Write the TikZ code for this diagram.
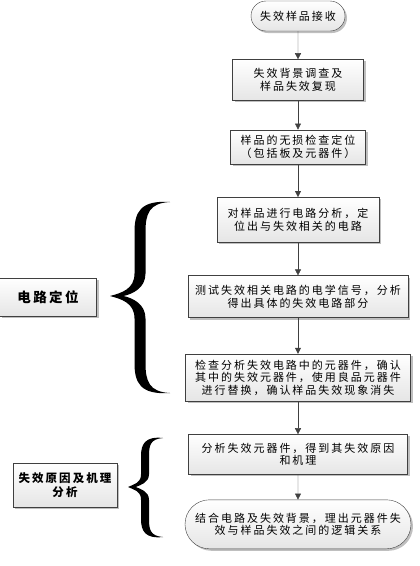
\documentclass[tikz,border=0pt]{standalone}
\usepackage{fontspec}
\setmainfont{Noto Sans CJK SC}[LetterSpace=18]
\usetikzlibrary{arrows.meta, positioning, shapes.misc, shadows}

\tikzset{
  stepbox/.style={draw=black!75, rectangle, top color=white, bottom color=black!10,
    drop shadow={shadow xshift=2pt, shadow yshift=-2pt, fill=black!50},
    inner sep=1pt, align=center, font=\fontsize{11}{12.5}\selectfont},
  termbox/.style={stepbox, rounded rectangle},
  tagbox/.style={stepbox, font=\bfseries\fontsize{11.5}{13.5}\selectfont},
  flow/.style={draw=black!75, -{Triangle[length=6pt, width=6pt]}}
}

% filled curly brace: end x, stem x, tip x, top y, tip y, bottom y, stem width
\newcommand\curlybrace[7]{%
  \pgfmathsetmacro\ba{#1-#2}\pgfmathsetmacro\bb{0.75*(#2-#3)}%
  \pgfmathsetmacro\lo{#2-#7/2}\pgfmathsetmacro\ri{#2+#7/2}%
  \fill (#1,#4) .. controls (#2,#4-2) and (\lo,#4+0.35*\ba) .. (\lo,#4+\ba)
   -- (\lo,#5-\bb) .. controls (\lo,#5-0.3*\bb) and (#3+0.5*\bb,#5-3) .. (#3,#5)
   .. controls (#3+0.5*\bb,#5+3) and (\lo,#5+0.3*\bb) .. (\lo,#5+\bb)
   -- (\lo,#6-\ba) .. controls (\lo,#6-0.35*\ba) and (#2,#6+2) .. (#1,#6)
   .. controls (#2+0.3*\ba,#6-1) and (\ri,#6-0.4*\ba) .. (\ri,#6-\ba)
   -- (\ri,#5+\bb) .. controls (\ri,#5+0.35*\bb) and (#3+\bb,#5+2) .. (#3+0.6*\bb,#5)
   .. controls (#3+\bb,#5-2) and (\ri,#5-0.35*\bb) .. (\ri,#5-\bb)
   -- (\ri,#4+\ba) .. controls (\ri,#4+0.4*\ba) and (#2+0.3*\ba,#4+1) .. (#1,#4) -- cycle;}

\begin{document}
\begin{tikzpicture}[x=1pt, y=-1pt]
  \useasboundingbox (0,0) rectangle (420,566);

  % main flow
  \node[termbox, minimum width=96pt, minimum height=30pt] (recv) at (298,16) {失效样品接收};
  \node[stepbox, below=28pt of recv, minimum width=131pt, minimum height=41pt] (survey)
    {失效背景调查及\\样品失效复现};
  \node[stepbox, below=29pt of survey, minimum width=135pt, minimum height=34pt] (ndt)
    {样品的无损检查定位\\（包括板及元器件）};
  \node[stepbox, below=33pt of ndt, minimum width=162pt, minimum height=45pt] (circ)
    {对样品进行电路分析，定\\位出与失效相关的电路};
  \node[stepbox, below=33pt of circ, minimum width=220pt, minimum height=42pt] (signal)
    {测试失效相关电路的电学信号，分析\\得出具体的失效电路部分};
  \node[stepbox, below=36pt of signal, minimum width=225pt, minimum height=47pt] (comp)
    {检查分析失效电路中的元器件，确认\\其中的失效元器件，使用良品元器件\\进行替换，确认样品失效现象消失};
  \node[stepbox, below=33pt of comp, minimum width=219pt, minimum height=40pt] (mech)
    {分析失效元器件，得到其失效原因\\和机理};
  \node[termbox, below=25pt of mech, minimum width=228pt, minimum height=49pt] (logic)
    {结合电路及失效背景，理出元器件失\\效与样品失效之间的逻辑关系};

  \draw[flow] (recv) -- (survey);
  \draw[flow] (survey) -- (ndt);
  \draw[flow] (ndt) -- (circ);
  \draw[flow] (circ) -- (signal);
  \draw[flow] (signal) -- (comp);
  \draw[flow] (comp) -- (mech);
  \draw[flow] (mech) -- (logic);

  % stage labels
  \node[tagbox, font=\bfseries\fontsize{13.5}{15}\selectfont, minimum width=97pt, minimum height=38pt] (loc) at (48,297) {电路定位};
  \node[tagbox, minimum width=104pt, minimum height=44pt] (cause) at (65,485) {失效原因及机理\\分析};

  \curlybrace{170}{140}{110}{202}{296}{393}{11}
  \curlybrace{163}{145}{128}{438}{487}{537}{8}
\end{tikzpicture}
\end{document}
